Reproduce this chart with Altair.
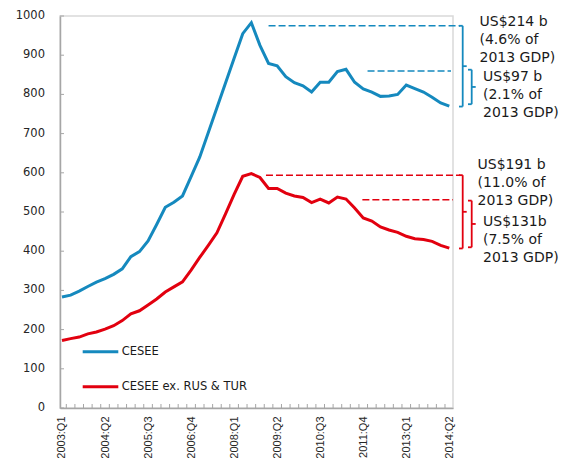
import json
import altair as alt
import pandas as pd

# ---- data (USD billions), quarterly 2003:Q1 .. 2014:Q2 ----
cesee = [283, 288, 298, 310, 321, 330, 341, 355, 386, 399, 426, 468,
         512, 525, 541, 590, 640, 703, 766, 829, 892, 955, 983,
         925, 879, 873, 845, 830, 822, 806, 831, 831, 858, 864,
         831, 814, 806, 795, 796, 800, 824, 815, 806, 793, 778, 770]
cesee_ex = [172, 177, 181, 189, 194, 201, 210, 223, 240, 248, 263, 278,
            296, 309, 322, 352, 384, 415, 447, 495, 545, 591, 598,
            588, 560, 560, 548, 541, 537, 524, 533, 523, 538, 533,
            510, 485, 477, 462, 454, 448, 438, 432, 430, 425, 415, 408]
series_names = ["CESEE", "CESEE ex. RUS & TUR"]
colors = ["#1589be", "#e2000f"]
tick_labels = ["2003:Q1", "2004:Q2", "2005:Q3", "2006:Q4", "2008:Q1",
               "2009:Q2", "2010:Q3", "2011:Q4", "2013:Q1", "2014:Q2"]
y_ticks = [0, 100, 200, 300, 400, 500, 600, 700, 800, 900, 1000]

# annotation values (data units)
dash_start = [24.0, 35.5, 23.7, 34.9]
dash_level = [975, 860, 594, 531]
bracket_top = [975, 863, 594, 529]
bracket_bottom = [769, 775, 407, 410]
ann_text = [["US$214 b", "(4.6% of", "2013 GDP)"],
            ["US$97 b", "(2.1% of", "2013 GDP)"],
            ["US$191 b", "(11.0% of", "2013 GDP)"],
            ["US$131b", "(7.5% of", "2013 GDP)"]]
ann_color = [colors[0], colors[0], colors[1], colors[1]]

# layout (pixels inside the plot area)
W, H = 393, 392
TOP = 8
dash_end_px = [400, 391, 400, 393]
bracket_x_px = [402.7, 411.7, 402.7, 411.7]
ann_x_px = [419.5, 423, 417.5, 423]
ann_y_px = [21.5 - 8 - TOP, 77 - 8 - TOP, 165 - 8 - TOP, 221.7 - 8 - TOP]

n = len(cesee)
df = pd.DataFrame({
    "i": list(range(n)) * 2,
    "v": cesee + cesee_ex,
    "s": [series_names[0]] * n + [series_names[1]] * n,
})
one = pd.DataFrame({"a": [0]})

x_scale = alt.Scale(domain=[-0.232, 45.43], nice=False, zero=False)
y_scale = alt.Scale(domain=[0, 1000], nice=False)
axis_gray = "#a6a6a6"
label_color = "#262626"

x_axis = alt.Axis(values=list(range(0, n, 5)),
                  labelExpr=json.dumps(tick_labels) + "[round(datum.value/5)]",
                  labelAngle=270, ticks=False, grid=False, title=None,
                  domainColor=axis_gray, domainWidth=1.5,
                  labelFont="Liberation Sans", labelFontSize=11,
                  labelColor=label_color, labelPadding=8,
                  labelFlush=False, labelOverlap=False)
y_axis = alt.Axis(labels=False, ticks=False, grid=False, title=None,
                  domainColor=axis_gray, domainWidth=1.5)

lines = alt.Chart(df).mark_line(strokeWidth=3).encode(
    x=alt.X("i:Q", scale=x_scale, axis=x_axis),
    y=alt.Y("v:Q", scale=y_scale, axis=y_axis),
    color=alt.Color("s:N", scale=alt.Scale(domain=series_names, range=colors),
                    legend=None),
)

qticks = alt.Chart(pd.DataFrame({"i": [k + 0.5 for k in range(n - 1)]})).mark_rule(
    color=axis_gray, strokeWidth=1).encode(
    x=alt.X("i:Q", scale=x_scale, axis=x_axis), y=alt.value(H - 4), y2=alt.value(H))

ydf = pd.DataFrame({"v": y_ticks})
yticks = alt.Chart(ydf).mark_rule(color=axis_gray, strokeWidth=1).encode(
    y=alt.Y("v:Q", scale=y_scale, axis=y_axis), x=alt.value(0), x2=alt.value(4))
ylabels = alt.Chart(ydf).mark_text(
    align="right", baseline="middle", font="DejaVu Sans", fontSize=11.5,
    color=label_color).encode(
    y=alt.Y("v:Q", scale=y_scale, axis=y_axis), x=alt.value(-15),
    text=alt.Text("v:Q", format="d"))

layers = [qticks, yticks, ylabels, lines]

for k in range(4):
    c = ann_color[k]
    layers.append(alt.Chart(one).mark_rule(color=c, strokeWidth=1.5, strokeDash=[7, 3]).encode(
        x=alt.datum(dash_start[k]), x2=alt.value(dash_end_px[k]), y=alt.datum(dash_level[k])))
    bx = bracket_x_px[k]
    mid = (bracket_top[k] + bracket_bottom[k]) / 2
    layers.append(alt.Chart(one).mark_rule(color=c, strokeWidth=1.8).encode(
        x=alt.value(bx), y=alt.datum(bracket_top[k]), y2=alt.datum(bracket_bottom[k])))
    for lvl in (bracket_top[k], bracket_bottom[k]):
        layers.append(alt.Chart(one).mark_rule(color=c, strokeWidth=1.8).encode(
            x=alt.value(bx - 3.7), x2=alt.value(bx), y=alt.datum(lvl)))
    layers.append(alt.Chart(one).mark_rule(color=c, strokeWidth=1.8).encode(
        x=alt.value(bx), x2=alt.value(bx + 4), y=alt.datum(mid)))
    layers.append(alt.Chart(one).mark_text(
        align="left", baseline="middle", font="DejaVu Sans", fontSize=14,
        lineHeight=18, color="#1a1a1a").encode(
        x=alt.value(ann_x_px[k]), y=alt.value(ann_y_px[k]), text=alt.value(ann_text[k])))

# legend
leg_y = [351.7 - 8 - TOP, 386.7 - 8 - TOP]
for k in range(2):
    layers.append(alt.Chart(one).mark_rule(color=colors[k], strokeWidth=3).encode(
        x=alt.value(22.7), x2=alt.value(58.3), y=alt.value(leg_y[k])))
    layers.append(alt.Chart(one).mark_text(
        align="left", baseline="middle", font="DejaVu Sans", fontSize=11.5,
        color="#1a1a1a").encode(
        x=alt.value(61.7), y=alt.value(leg_y[k]), text=alt.value(series_names[k])))

chart = alt.layer(*layers).properties(
    width=W, height=H,
    autosize=alt.AutoSizeParams(type="none"),
    padding={"left": 52, "top": TOP, "right": 107, "bottom": 50},
).configure_view(stroke="#d9d9d9", strokeWidth=1.5)

chart.save("out.html", embed_options={"renderer": "svg", "actions": False})
